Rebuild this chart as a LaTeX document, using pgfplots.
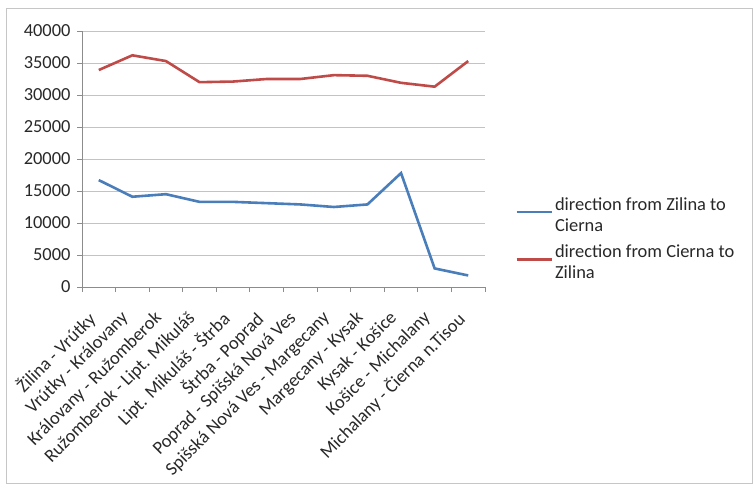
\documentclass[border=0pt]{standalone}
\usepackage{pgfplots}
\pgfplotsset{compat=1.18}
\usepackage{fontspec}
\setmainfont{Carlito}

\definecolor{zilcie}{RGB}{74,126,187}
\definecolor{ciezil}{RGB}{190,75,72}
\definecolor{gridgray}{RGB}{195,195,195}
\definecolor{axgray}{RGB}{140,140,140}
\definecolor{txt}{RGB}{40,40,40}

\begin{document}
\begin{tikzpicture}[x=1bp,y=1bp]
  % canvas and chart frame
  \path (0,0) rectangle (755,489);
  \draw[gray!45, line width=1bp] (6.5,5) rectangle (752,480);
  \begin{axis}[
    at={(82bp,202bp)}, anchor=south west,
    scale only axis, width=403bp, height=256bp,
    xmin=0.5, xmax=12.5, ymin=0, ymax=40000,
    ytick={0,5000,...,40000},
    xtick={0.5,1.5,...,12.5}, xticklabels={},
    extra x ticks={1,2,...,12},
    extra x tick labels={Žilina - Vrútky, Vrútky - Královany, Královany - Ružomberok,
      Ružomberok - Lipt. Mikuláš, Lipt. Mikuláš - Štrba, Štrba - Poprad,
      Poprad - Spišská Nová Ves, Spišská Nová Ves - Margecany, Margecany - Kysak,
      Kysak - Košice, Košice - Michalany, Michalany - Čierna n.Tisou},
    extra x tick style={major tick length=0pt, grid=none,
      xticklabel style={rotate=45, anchor=north east, inner sep=1bp,
        xshift=-24bp, yshift=-6bp, font=\fontsize{18.5}{21}\selectfont}},
    axis x line*=bottom, axis y line*=left,
    axis line style={axgray, line width=0.9bp},
    tick style={axgray, line width=0.9bp},
    tick align=outside, major tick length=5bp,
    ymajorgrids, grid style={gridgray, line width=0.9bp},
    scaled y ticks=false,
    /pgf/number format/fixed,
    /pgf/number format/1000 sep={},
    /pgf/number format/assume math mode=true,
    yticklabel style={xshift=-3bp, font=\fontsize{18.5}{20}\selectfont},
    tick label style={text=txt},
    legend style={at={(1.075,0.189)}, anchor=west, draw=none, fill=none,
      font=\fontsize{18.5}{21}\selectfont, text=txt,
      cells={align=left}, row sep=8bp, inner sep=0pt},
    legend cell align=left,
    legend image code/.code={\draw[#1] (0bp,0.3em) -- (35bp,0.3em);},
  ]
    \addplot[zilcie, line width=2.6bp] coordinates {
      (1,16700) (2,14100) (3,14500) (4,13300) (5,13300) (6,13100)
      (7,12900) (8,12500) (9,12900) (10,17800) (11,2900) (12,1800)};
    \addlegendentry{direction from Zilina to\\Cierna}
    \addplot[ciezil, line width=2.6bp] coordinates {
      (1,33900) (2,36200) (3,35300) (4,32000) (5,32100) (6,32500)
      (7,32500) (8,33100) (9,33000) (10,31900) (11,31300) (12,35300)};
    \addlegendentry{direction from Cierna to\\Zilina}
  \end{axis}
\end{tikzpicture}
\end{document}
